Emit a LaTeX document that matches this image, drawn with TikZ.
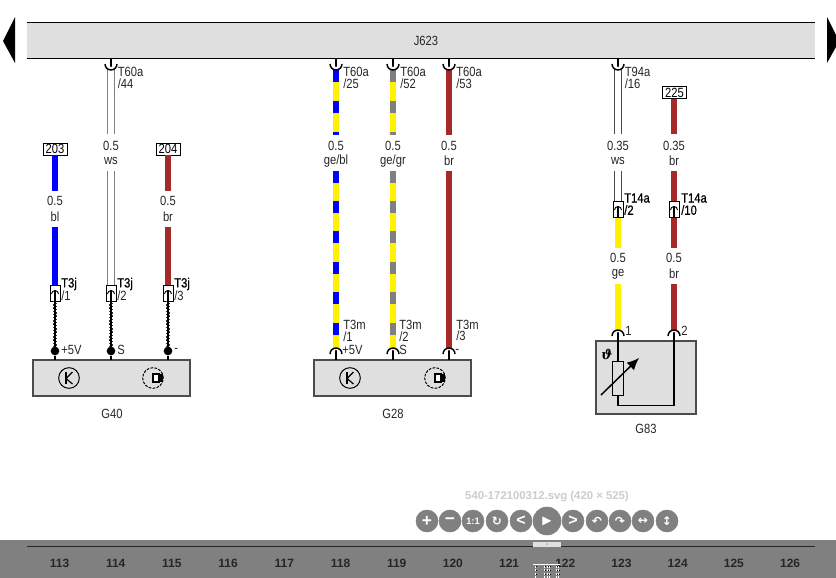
\documentclass[tikz,border=0pt]{standalone}
\usepackage{fontspec}
\setmainfont[FakeStretch=0.84]{Liberation Sans}
\newfontfamily\plainfont{Liberation Sans}
\newfontfamily\semifont[FakeStretch=0.84,FakeBold=0.6]{Liberation Sans}
\newfontfamily\symfont{DejaVu Sans}
\newfontfamily\thetafont{DejaVu Serif}
\usetikzlibrary{arrows.meta,calc}
\definecolor{wbrown}{HTML}{A52A2A}
\definecolor{wgray}{HTML}{808080}
\definecolor{panel}{HTML}{DFDFDF}
\tikzset{
  x=0.75pt,y=-0.75pt,
  lbl/.style={font=\fontsize{10}{10}\selectfont,inner sep=0,text=black!85},
  pinlbl/.style={lbl,anchor=west},
  boldlbl/.style={lbl,anchor=west,font=\fontsize{10}{10}\selectfont\semifont,text=black},
  wirefat/.style={line width=5pt},
  fatblue/.style={wirefat,draw=blue},
  fatbrown/.style={wirefat,draw=wbrown},
  fatyellow/.style={wirefat,draw=yellow},
  termbox/.style={draw=black,fill=white,line width=0.75pt,minimum width=18pt,minimum height=9pt,inner sep=0,font=\fontsize{10}{9}\selectfont},
  plugbox/.style={draw=black,fill=white,line width=0.75pt,minimum width=7.5pt,minimum height=12pt,inner sep=0},
  unitbox/.style={draw=black!70,fill=panel,line width=0.8pt,inner sep=0},
  ctrl/.style={circle,draw=wgray,fill=wgray,minimum size=16.5pt,inner sep=0,text=white,font=\fontsize{9}{9}\selectfont\bfseries\plainfont},
  sensorc/.style={circle,draw=black,line width=0.75pt,minimum size=15.5pt,inner sep=0},
  sensord/.style={circle,draw=black,dash pattern=on 2pt off 1pt,line width=0.75pt,minimum size=15.5pt,inner sep=0},
  dotpin/.style={circle,fill=black,inner sep=0,minimum size=6.5pt},
  page/.style={lbl,font=\fontsize{9}{9}\selectfont\bfseries\plainfont,text=black!85}
}
% solid wire piece
\newcommand{\seg}[5]{\coordinate (#1a) at (#2,#3);\coordinate (#1b) at (#2,#4);\draw[#5] (#1a) -- (#1b);}
% white wire: two thin lines
\newcommand{\wseg}[5]{\coordinate (#1a) at (#2,#3);\coordinate (#1b) at (#2,#4);
  \draw[draw=#5,line width=0.7pt] ($(#1a)+(-3.5,0)$) -- ($(#1b)+(-3.5,0)$);
  \draw[draw=#5,line width=0.7pt] ($(#1a)+(3.5,0)$) -- ($(#1b)+(3.5,0)$);}
% striped wire piece
\newcommand{\sseg}[6]{\coordinate (#1a) at (#2,#3);\coordinate (#1b) at (#2,#4);
  \draw[wirefat,draw=yellow] (#1a) -- (#1b);
  \draw[wirefat,draw=#5,dash pattern=on 9pt off #6pt] (#1a) -- (#1b);}
% twisted wire
\newcommand{\twist}[4]{\coordinate (#1a) at (#2,#3);\coordinate (#1b) at (#2,#4);
  \draw[line width=1.5pt,black] (#1a) -- (#1b);
  \draw[line width=0.5pt,black!80,dash pattern=on 1pt off 1.4pt] ($(#1a)+(-1.4,0)$) -- ($(#1b)+(-1.4,0)$);
  \draw[line width=0.5pt,black!80,dash pattern=on 1pt off 1.4pt,dash phase=1.2pt] ($(#1a)+(1.4,0)$) -- ($(#1b)+(1.4,0)$);}
% top socket (arc bulging down, with drop)
\newcommand{\topsock}[3]{\coordinate (#1) at (#2,#3);
  \draw[line width=1.1pt,black] ($(#1)+(-6,4)$) arc[start angle=180,end angle=0,x radius=6,y radius=6];
  \draw[line width=1.1pt,black] ($(#1)+(0,-2)$) -- ($(#1)+(0,3)$);
  \draw[line width=2.2pt,black,line cap=round] ($(#1)+(0,2)$) -- ($(#1)+(0,6)$);}
% bottom socket (arc bulging up, with stem)
\newcommand{\botsock}[3]{\coordinate (#1) at (#2,#3);
  \draw[line width=1.1pt,black] ($(#1)+(-6,0)$) arc[start angle=180,end angle=360,x radius=6,y radius=6];
  \draw[line width=2pt,black,line cap=round] ($(#1)+(0,-3)$) -- ($(#1)+(0,0)$);
  \draw[line width=1.1pt,black] ($(#1)+(0,-1)$) -- ($(#1)+(0,6)$);}
% plug symbol inside a box
\newcommand{\plug}[3]{\node[plugbox] (#1) at (#2,#3) {};
  \draw[line width=0.7pt,black] ($(#1)+(-3.5,1)$) arc[start angle=180,end angle=360,x radius=3.5,y radius=3.5];
  \draw[line width=1.1pt,black] ($(#1)+(0,-3)$) -- (#1.south);}
\newcommand{\kfig}[3]{\node[sensorc] (#1) at (#2,#3) {};
  \draw[line width=0.9pt,black] ($(#1)+(-3,-6)$) -- ($(#1)+(-3,6)$);
  \draw[line width=0.9pt,black] ($(#1)+(3.5,-6)$) -- ($(#1)+(-3,0.5)$) -- ($(#1)+(3.5,6)$);}
\newcommand{\hallfig}[3]{\node[sensord] (#1) at (#2,#3) {};
  \draw[line width=0.8pt,black,fill=white] ($(#1)+(0,-4)$) rectangle ($(#1)+(6,4)$);
  \fill[black] ($(#1)+(6,-4.4)$) rectangle ($(#1)+(10,4.4)$);}
\begin{document}
\begin{tikzpicture}
\useasboundingbox (0,0) rectangle (836,578);
\fill[white] (0,0) rectangle (836,578);
% nav arrows
\fill[black] (15,17) -- (3,41) -- (15,63) -- cycle;
\fill[black] (827,17) -- (836,35) -- (836,47) -- (827,63) -- cycle;
% J623 bar
\node[fill=panel,minimum width=591pt,minimum height=27pt,inner sep=0] (J) at (421,40.5) {};
\node[lbl] (Jt) at (426,41) {J623};
\draw[line width=0.9pt,black] (J.north west) -- (J.north east);
\draw[line width=0.9pt,black] (J.south west) -- (J.south east);

% ---- G40
\node[unitbox,minimum width=117.75pt,minimum height=27pt] (G40) at (111.5,378) {};
\kfig{k40}{69}{378}
\hallfig{h40}{153}{378}
\node[lbl] (nG40) at (112,414) {G40};
\node[termbox] (t203) at (55,149) {203};
\node[termbox] (t204) at (168,149) {204};
\seg{a1}{55}{155}{191}{fatblue}
\seg{a2}{55}{227}{286}{fatblue}
\seg{c1}{168}{155}{191}{fatbrown}
\seg{c2}{168}{227}{286}{fatbrown}
\wseg{b1}{111}{68}{134}{black!50}
\wseg{b2}{111}{171}{286}{black!50}
\topsock{s44}{111}{60}
\foreach \nx/\xx in {p1/55,p2/111,p3/168}{
  \plug{\nx}{\xx}{293}
  \coordinate (\nx d) at (\xx,351);
  \twist{\nx w}{\xx}{301}{351}
  \node[dotpin] (\nx o) at (\nx d) {};
  \draw[line width=1.1pt,black] (\nx o) -- (\xx,360);
}
\node[lbl] at (55,201) {0.5};\node[lbl] at (55,217) {bl};
\node[lbl] at (111,146) {0.5};\node[lbl] at (111,161) {ws};
\node[lbl] at (168,201) {0.5};\node[lbl] at (168,217) {br};
\node[pinlbl] at (117.5,72) {T60a};\node[pinlbl] at (117.5,84) {/44};
\node[boldlbl] at (61,284) {T3j};\node[pinlbl] at (61,296) {/1};
\node[boldlbl] at (117,284) {T3j};\node[pinlbl] at (117,296) {/2};
\node[boldlbl] at (174,284) {T3j};\node[pinlbl] at (174,296) {/3};
\node[pinlbl] at (61,350) {+5V};\node[pinlbl] at (117,350) {S};\node[pinlbl] at (174,350) {-};

% ---- G28
\node[unitbox,minimum width=117.75pt,minimum height=27pt] (G28) at (392.5,378) {};
\kfig{k28}{350}{378}
\hallfig{h28}{435}{378}
\node[lbl] (nG28) at (393,414) {G28};
\sseg{d1}{336}{70}{135}{blue}{14.2}
\sseg{d2}{336}{170.5}{348}{blue}{13.8}
\sseg{e1}{393}{70}{135}{wgray}{14.2}
\sseg{e2}{393}{170.5}{348}{wgray}{13.8}
\seg{f1}{449}{70}{135}{fatbrown}
\seg{f2}{449}{171}{348}{fatbrown}
\topsock{s25}{336}{60}\topsock{s52}{393}{60}\topsock{s53}{449}{60}
\botsock{m1}{336}{354}\botsock{m2}{393}{354}\botsock{m3}{449}{354}
\node[lbl] at (336,146) {0.5};\node[lbl] at (336,161) {ge/bl};
\node[lbl] at (393,146) {0.5};\node[lbl] at (393,161) {ge/gr};
\node[lbl] at (449,146) {0.5};\node[lbl] at (449,161) {br};
\node[pinlbl] at (343,72) {T60a};\node[pinlbl] at (343,84) {/25};
\node[pinlbl] at (400,72) {T60a};\node[pinlbl] at (400,84) {/52};
\node[pinlbl] at (456,72) {T60a};\node[pinlbl] at (456,84) {/53};
\node[pinlbl] at (343,325) {T3m};\node[pinlbl] at (343,337) {/1};\node[pinlbl] at (342,350) {+5V};
\node[pinlbl] at (399,325) {T3m};\node[pinlbl] at (399,337) {/2};\node[pinlbl] at (399,350) {S};
\node[pinlbl] at (456,325) {T3m};\node[pinlbl] at (456,336) {/3};\node[pinlbl] at (455,351) {-};

% ---- G83
\node[unitbox,minimum width=75pt,minimum height=54.75pt] (G83) at (646,377.5) {};
\node[lbl] (nG83) at (646,429) {G83};
\wseg{g1}{618}{68}{134}{black!70}
\wseg{g2}{618}{171}{202}{black!70}
\seg{g3}{618}{217}{248}{fatyellow}
\seg{g4}{618}{284}{330}{fatyellow}
\topsock{s16}{618}{60}
\node[termbox] (t225) at (674.5,92.5) {225};
\seg{h1}{674}{99}{134}{fatbrown}
\seg{h2}{674}{171}{248}{fatbrown}
\seg{h3}{674}{284}{330}{fatbrown}
\plug{q1}{618}{209}
\plug{q2}{674}{209}
\botsock{n1}{618}{336}\botsock{n2}{674}{336}
\node[draw=black,fill=panel,line width=0.75pt,minimum width=8.5pt,minimum height=25.5pt,inner sep=0] (res) at (618,378) {};
\draw[line width=1.1pt,black] (618,336) -- (res.north);
\draw[line width=1.1pt,black] (res.south) -- (618,405.5) -- (674,405.5) -- (674,336);
\draw[line width=1.1pt,black,-{Latex[length=9pt,width=8pt]}] (601,395) -- (639,358);
\node[inner sep=0,font=\fontsize{10}{10}\selectfont\thetafont\bfseries\itshape] (theta) at (607,354) {ϑ};
\node[lbl] at (618,146) {0.35};\node[lbl] at (618,161) {ws};
\node[lbl] at (674,146) {0.35};\node[lbl] at (674,161) {br};
\node[lbl] at (618,258) {0.5};\node[lbl] at (618,274) {ge};
\node[lbl] at (674,258) {0.5};\node[lbl] at (674,274) {br};
\node[pinlbl] at (624.5,72) {T94a};\node[pinlbl] at (624.5,84) {/16};
\node[boldlbl] at (624,198) {T14a};\node[boldlbl] at (624,210) {/2};
\node[boldlbl] at (681,198) {T14a};\node[boldlbl] at (681,210) {/10};
\node[pinlbl] at (625,331) {1};\node[pinlbl] at (681,331) {2};

% ---- viewer controls
\node[inner sep=0,text=black!20,font=\fontsize{8.5}{9}\selectfont\bfseries\plainfont] (fname) at (547,497) {540-172100312.svg (420 × 525)};
\node[ctrl] (bplus) at (427,521) {\fontsize{13}{13}\selectfont +};
\node[ctrl] (bminus) at (450,521) {\fontsize{13}{13}\selectfont −};
\node[ctrl] (bone) at (473,521) {\fontsize{7}{7}\selectfont 1:1};
\node[ctrl] (bc) at (497,521) {\symfont\fontsize{9}{9}\selectfont ↻};
\node[ctrl] (bl) at (521,521) {\fontsize{12}{12}\selectfont <};
\node[ctrl,minimum size=21pt] (bplay) at (547,521) {\symfont\fontsize{9}{9}\selectfont ▶};
\node[ctrl] (br) at (573,521) {\fontsize{12}{12}\selectfont >};
\node[ctrl] (bu) at (597,521) {\symfont\fontsize{9}{9}\selectfont ↶};
\node[ctrl] (bd) at (620,521) {\symfont\fontsize{9}{9}\selectfont ↷};
\node[ctrl] (bh) at (643,521) {\symfont\fontsize{9}{9}\selectfont ↔};
\node[ctrl] (bv) at (667,521) {\symfont\fontsize{9}{9}\selectfont ↕};

% ---- bottom strip
\fill[wgray] (0,540) rectangle (836,578);
\draw[line width=0.9pt,black!85] (27,546.5) -- (815,546.5);
\foreach \n [count=\i from 0] in {113,...,126}{
  \node[page] (pg\n) at ({59.5+56.2*\i},563) {\n};
}
\fill[black!12] (533,542) rectangle (561,547);
\fill[black] (547,544) circle (0.5);
\draw[line width=0.7pt,white] (533,564) -- (560,564);
\foreach \mx in {535,544.5,547,549,556,558}{
  \draw[line width=0.5pt,white,dash pattern=on 1.5pt off 1pt] (\mx,566) -- (\mx,578);
  \draw[line width=0.4pt,black,dash pattern=on 1pt off 2pt] (\mx+0.9,566) -- (\mx+0.9,578);
}
\end{tikzpicture}
\end{document}
